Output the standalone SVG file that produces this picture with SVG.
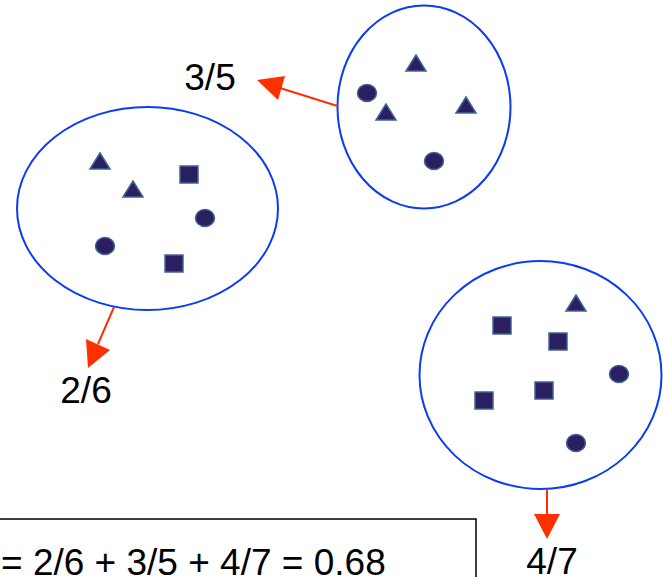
<svg xmlns="http://www.w3.org/2000/svg" width="663" height="577" viewBox="0 0 663 577">
<style>
.cl{fill:none;stroke:#0a3cf5;stroke-width:2}
.sh{fill:#2a1f60;stroke:#3f6590;stroke-width:1.5}
.ar{stroke:#ff3000;stroke-width:2;fill:none}
.ah{fill:#ff3000}
text{font-family:"Liberation Sans",Arial,sans-serif;fill:#000;font-size:37px}
</style>
<rect width="663" height="577" fill="#fff"/>
<g id="cluster-top">
<ellipse class="cl" cx="424" cy="107" rx="86.5" ry="101.5"/>
<polygon class="sh" points="416,55 406,71 426,71"/>
<ellipse class="sh" cx="367" cy="93" rx="9.5" ry="8.5"/>
<polygon class="sh" points="386,104 376,120 396,120"/>
<polygon class="sh" points="466,97 456,113 476,113"/>
<ellipse class="sh" cx="434" cy="161" rx="9.5" ry="8.5"/>
</g>
<g id="cluster-left">
<ellipse class="cl" cx="147.5" cy="208.5" rx="130.5" ry="101.5"/>
<polygon class="sh" points="100,153 90,169 110,169"/>
<rect class="sh" x="180" y="166" width="18" height="17"/>
<polygon class="sh" points="133,181 123,197 143,197"/>
<ellipse class="sh" cx="205" cy="218" rx="9.5" ry="8.5"/>
<ellipse class="sh" cx="105" cy="246" rx="9.5" ry="8.5"/>
<rect class="sh" x="165" y="255" width="18" height="17"/>
</g>
<g id="cluster-right">
<ellipse class="cl" cx="540.5" cy="375" rx="121" ry="114"/>
<polygon class="sh" points="576,295 566,311 586,311"/>
<rect class="sh" x="493" y="317" width="18" height="17"/>
<rect class="sh" x="549" y="333" width="18" height="17"/>
<ellipse class="sh" cx="619" cy="374" rx="9.5" ry="8.5"/>
<rect class="sh" x="535" y="382" width="18" height="17"/>
<rect class="sh" x="475" y="392" width="18" height="17"/>
<ellipse class="sh" cx="576" cy="443" rx="9.5" ry="8.5"/>
</g>
<g id="connectors">
<line class="ar" x1="337.5" y1="106" x2="280" y2="88"/>
<polygon class="ah" points="257,80 285,76 278,100"/>
<line class="ar" x1="114" y1="307" x2="98" y2="344"/>
<polygon class="ah" points="88,368 86,339 110,350"/>
<line class="ar" x1="547" y1="489" x2="547" y2="515"/>
<polygon class="ah" points="534,514 560,514 547,539"/>
</g>
<g id="labels">
<text x="210" y="90" text-anchor="middle">3/5</text>
<text x="86" y="403" text-anchor="middle">2/6</text>
<text x="552" y="574" text-anchor="middle">4/7</text>
</g>
<g id="formula">
<rect x="-10" y="519" width="486" height="80" fill="none" stroke="#000" stroke-width="1.5"/>
<text x="1" y="575" font-size="38.5">= 2/6 + 3/5 + 4/7 = 0.68</text>
</g>
</svg>
